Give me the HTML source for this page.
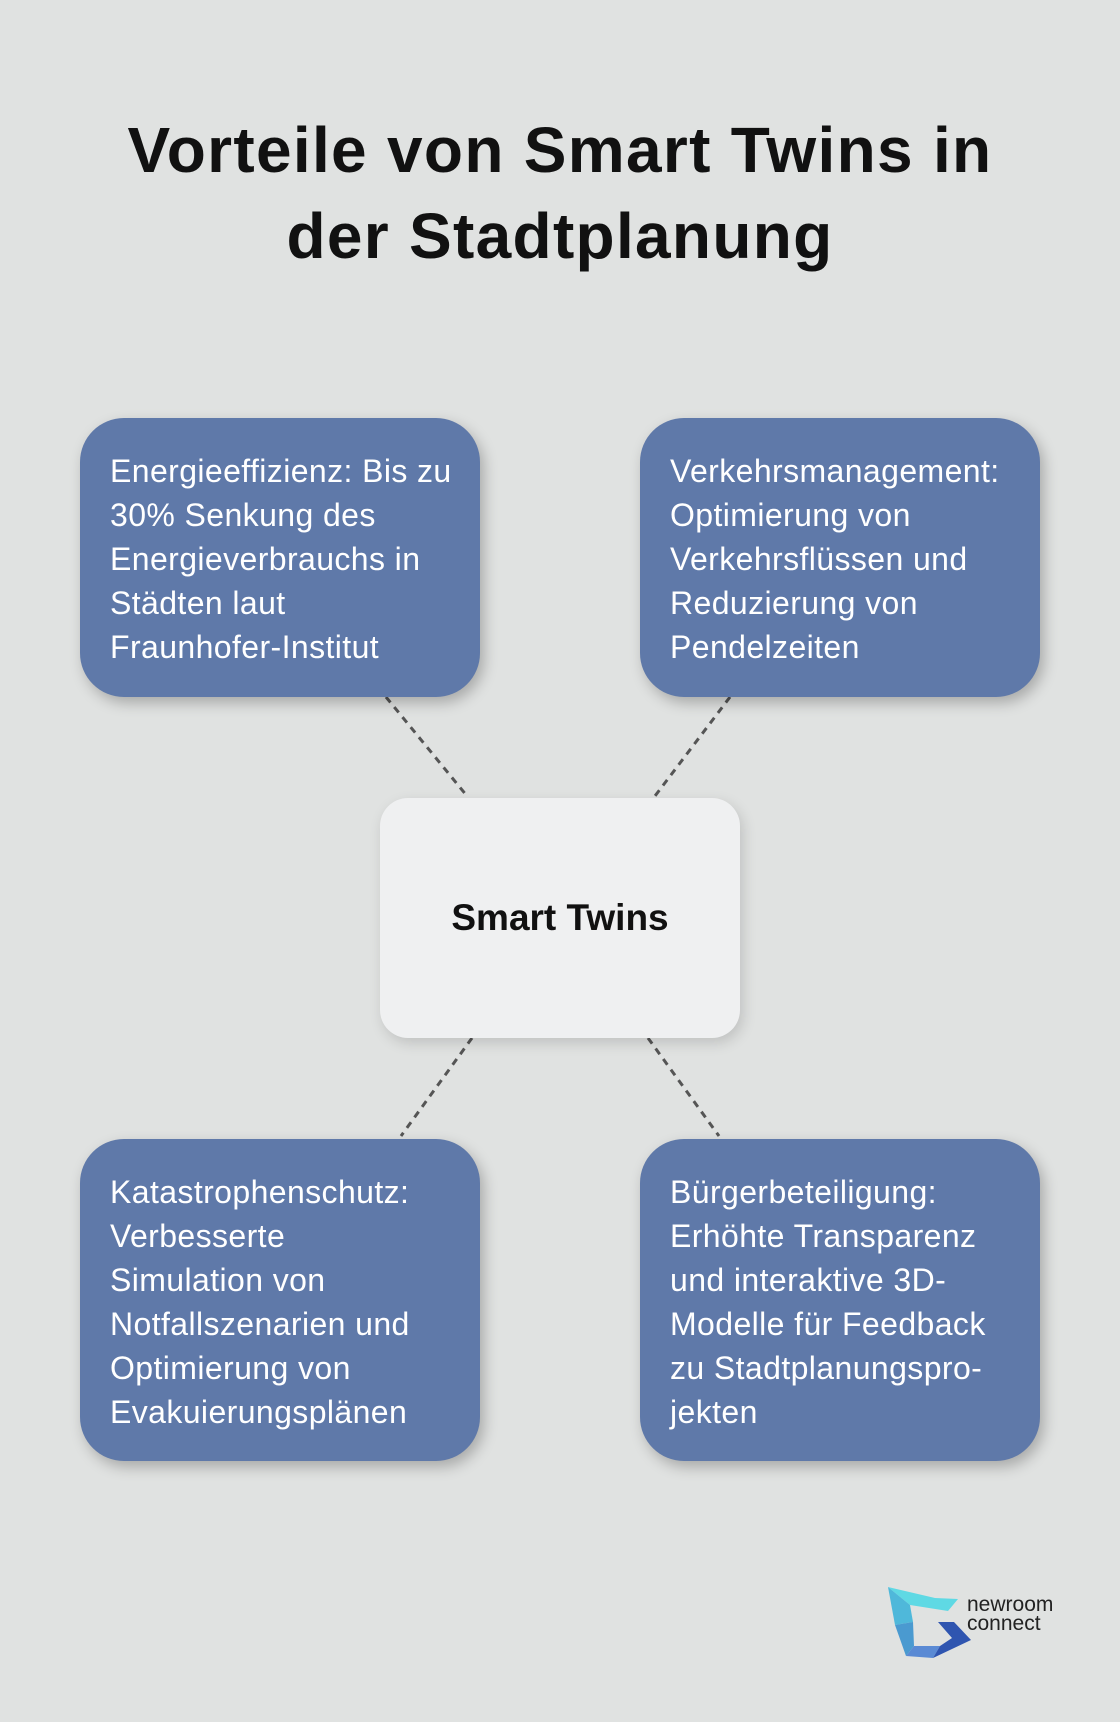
<!DOCTYPE html>
<html><head><meta charset="utf-8"><style>
body{margin:0;width:1120px;height:1722px;background:#e0e2e1;position:relative;font-family:"Liberation Sans",sans-serif;overflow:hidden}
h1{position:absolute;left:0;top:107px;width:1120px;margin:0;text-align:center;font-size:64px;letter-spacing:1.3px;line-height:86px;font-weight:bold;color:#111;white-space:nowrap}
.b{position:absolute;background:#5f79a9;border-radius:44px;color:#fff;font-size:32px;letter-spacing:0.4px;line-height:44px;box-sizing:border-box;padding:31px 0 0 30px;box-shadow:4px 6px 14px rgba(0,0,0,0.25);white-space:nowrap}
.c{position:absolute;left:380px;top:798px;width:360px;height:240px;background:#eff0f1;border-radius:28px;box-shadow:3px 5px 14px rgba(0,0,0,0.15);text-align:center;line-height:240px;font-weight:bold;font-size:37px;color:#111}
</style></head><body>
<h1>Vorteile von Smart Twins in<br>der Stadtplanung</h1>
<svg width="1120" height="1722" style="position:absolute;left:0;top:0">
<g stroke="#555" stroke-width="3" stroke-dasharray="7,6">
<line x1="386" y1="697" x2="467" y2="796"/>
<line x1="730" y1="697" x2="655" y2="796"/>
<line x1="472" y1="1038" x2="401" y2="1136"/>
<line x1="648" y1="1038" x2="719" y2="1136"/>
</g>
<polygon points="888,1587 935,1598 958,1599 948,1611 910,1605" fill="#5fd9e4"/>
<polygon points="888,1587 910,1605 913,1622 895,1625" fill="#4fb8da"/>
<polygon points="895,1625 913,1622 914,1646 906,1656" fill="#4a9ad0"/>
<polygon points="906,1656 914,1646 940,1646 933,1658" fill="#5a8ad4"/>
<polygon points="938,1622 954,1622 971,1640 933,1658 940,1646 952,1638" fill="#2f55b0"/>
<text x="967" y="1611" font-family="Liberation Sans" font-size="21" fill="#222">newroom</text>
<text x="967" y="1630" font-family="Liberation Sans" font-size="21" fill="#222">connect</text>
</svg>
<div class="b" style="left:80px;top:418px;width:400px;height:279px">Energieeffizienz: Bis zu<br>30% Senkung des<br>Energieverbrauchs in<br>Städten laut<br>Fraunhofer-Institut</div>
<div class="b" style="left:640px;top:418px;width:400px;height:279px">Verkehrsmanagement:<br>Optimierung von<br>Verkehrsflüssen und<br>Reduzierung von<br>Pendelzeiten</div>
<div class="b" style="left:80px;top:1139px;width:400px;height:322px">Katastrophenschutz:<br>Verbesserte<br>Simulation von<br>Notfallszenarien und<br>Optimierung von<br>Evakuierungsplänen</div>
<div class="b" style="left:640px;top:1139px;width:400px;height:322px">Bürgerbeteiligung:<br>Erhöhte Transparenz<br>und interaktive 3D-<br>Modelle für Feedback<br>zu Stadtplanungspro-<br>jekten</div>
<div class="c">Smart Twins</div>
</body></html>
